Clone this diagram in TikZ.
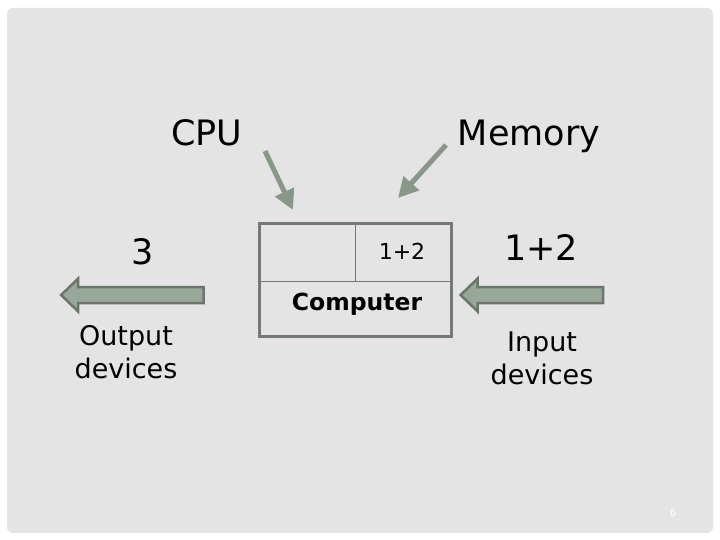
\documentclass[tikz,border=0pt]{standalone}
\usepackage{fontspec}
\setmainfont{DejaVu Sans}
\usepackage{xcolor}
\usetikzlibrary{arrows.meta,positioning,calc,shapes.arrows}
\definecolor{slide}{HTML}{E4E4E4}
\definecolor{arrowfill}{HTML}{98A898}
\definecolor{arrowdraw}{HTML}{6B756B}
\definecolor{pointer}{HTML}{889888}
\definecolor{boxline}{HTML}{737A73}

\begin{document}
\begin{tikzpicture}[
  x=1pt, y=-1pt,
  label/.style={inner sep=0pt,anchor=base,font=\fontsize{35}{40}\selectfont},
  small/.style={inner sep=0pt,align=center,font=\fontsize{27}{33}\selectfont},
  blockarrow/.style={single arrow,draw=arrowdraw,fill=arrowfill,line width=2.5pt,
    minimum height=142.5pt,inner xsep=0pt,inner ysep=6.75pt,text height=0pt,text depth=0pt,
    single arrow head extend=8.5pt,single arrow tip angle=88,shape border rotate=180},
  pointer/.style={-{Triangle[length=20pt,width=20pt]},line width=5pt,draw=pointer},
  cell/.style={draw=boxline,line width=1pt}
]
\useasboundingbox (0,0) rectangle (720,540);
\fill[white] (0,0) rectangle (720,540);
\fill[slide,rounded corners=6pt] (7,8) rectangle (713,533);

% labels
\node[label] (cpu) at (207,146) {CPU};
\node[label] (memory) at (529,146) {Memory};
\node[label] (result) at (143,264) {3};
\node[label] (sum) at (541,260) {1+2};
\node[small] (output) at (126,352) {Output\\devices};
\node[small] (input) at (542,358) {Input\\devices};

% computer
\node[draw=boxline,line width=2.5pt,minimum width=192pt,minimum height=113pt,inner sep=0pt] (comp) at (355.5,280) {};
\coordinate (split) at (355,281);
\draw[cell] (comp.west |- split) -- (comp.east |- split);
\draw[cell] (comp.north -| split) -- (split);
\node[inner sep=0pt,font=\fontsize{22}{26}\selectfont] (cellsum) at (402,251) {1+2};
\node[inner sep=0pt,font=\bfseries\fontsize{23.5}{26}\selectfont] (name) at (357,304) {Computer};

% pointers
\coordinate (cpufrom) at (265,151);
\coordinate (cputo) at (293,210);
\coordinate (memfrom) at (446,145);
\coordinate (memto) at (398,198);
\draw[pointer] (cpufrom) -- (cputo);
\draw[pointer] (memfrom) -- (memto);

% block arrows
\node[blockarrow] (outarrow) at (136.5,295) {};
\node[blockarrow] (inarrow) at (536,295) {};

\node[inner sep=0pt,text=white,font=\fontsize{10}{12}\selectfont] (page) at (673,513) {6};
\end{tikzpicture}
\end{document}
